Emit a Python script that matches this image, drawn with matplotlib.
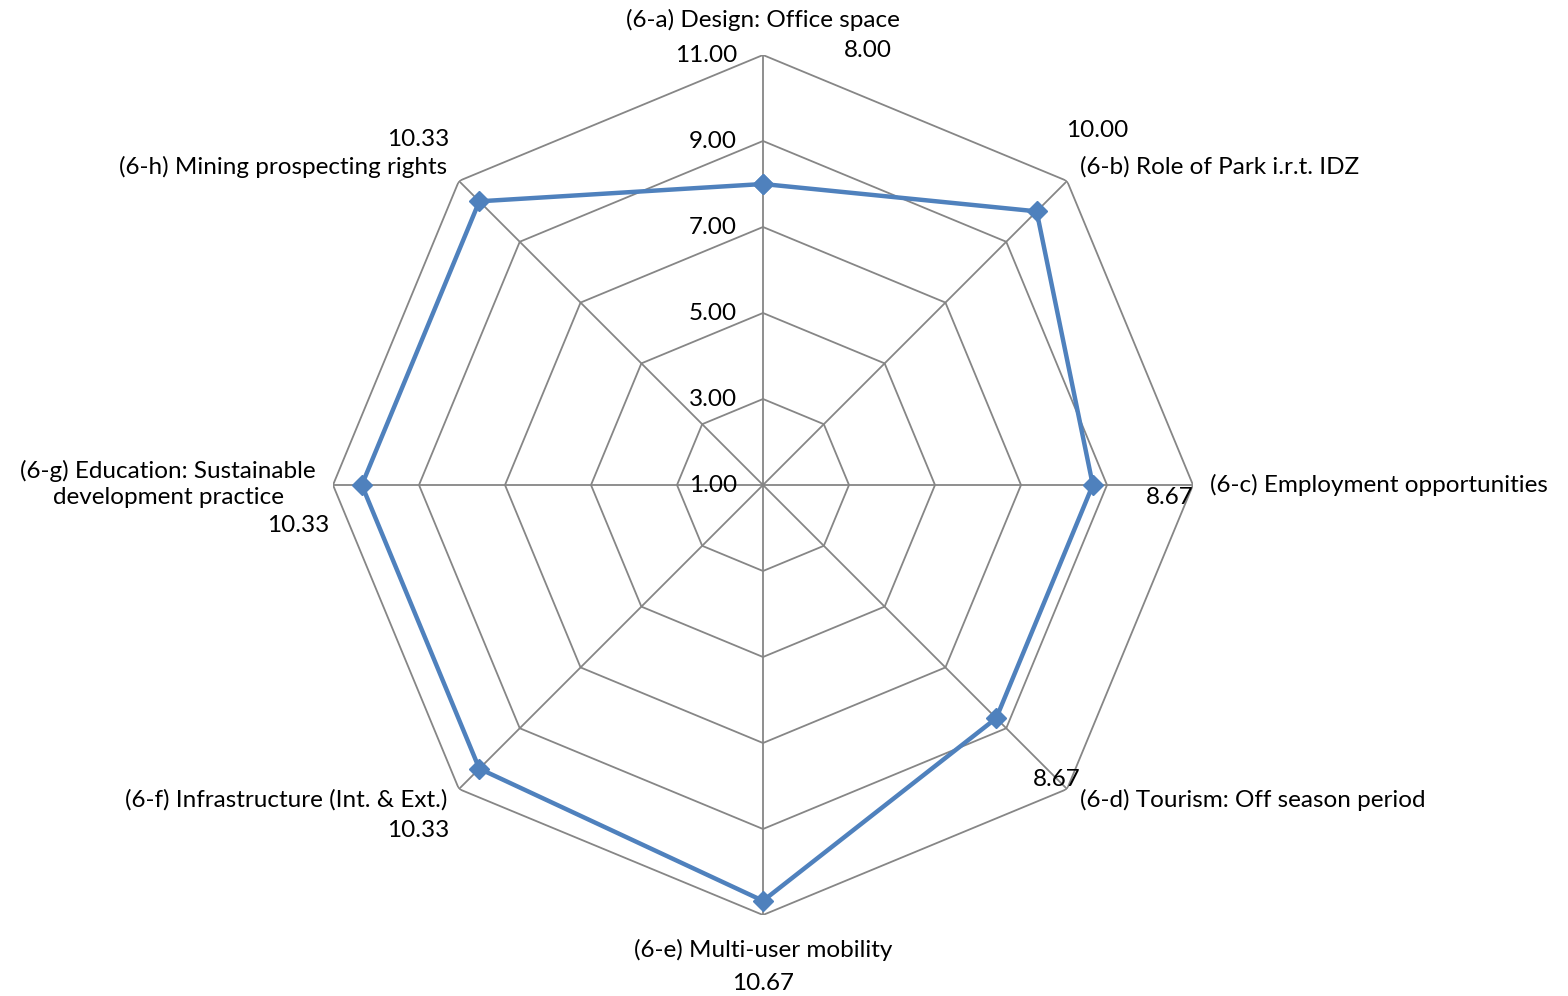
import numpy as np
import matplotlib.pyplot as plt

plt.rcParams['font.family'] = ['Lato', 'DejaVu Sans']

categories = ['(6-a) Design: Office space',
              '(6-b) Role of Park i.r.t. IDZ',
              '(6-c) Employment opportunities',
              '(6-d) Tourism: Off season period',
              '(6-e) Multi-user mobility',
              '(6-f) Infrastructure (Int. & Ext.)',
              '(6-g) Education: Sustainable\ndevelopment practice',
              '(6-h) Mining prospecting rights']
values = [8.00, 10.00, 8.67, 8.67, 10.67, 10.33, 10.33, 10.33]
rticks = [1, 3, 5, 7, 9, 11]

# label placement (pixel offsets from the outer vertex of each spoke)
cat_offsets = [(0, 35, 'center'), (13, 14, 'left'), (17, 0, 'left'),
               (13, -11, 'left'), (0, -35, 'center'), (-12, -11, 'right'),
               (-17, 1, 'right'), (-12, 14, 'right')]
val_offsets = [(105, 5), (30, 50), (-23, -12), (-10, 10),
               (0, -68), (-41, -41), (-35, -40), (-41, 41)]

grid_color = '#868686'
line_color = '#4F81BD'
fs = 17.5

W, H = 1568, 996
fig = plt.figure(figsize=(W / 100, H / 100), dpi=100)
cx, cy, rad = 763, H - 485, 430
ax = fig.add_axes([(cx - rad) / W, (cy - rad) / H, 2 * rad / W, 2 * rad / H],
                  projection='polar')
ax.set_theta_offset(np.pi / 2)
ax.set_theta_direction(-1)
ax.set_ylim(1, 11)
ax.grid(False)
ax.set_xticks([])
ax.set_yticks([])
ax.spines['polar'].set_visible(False)
ax.patch.set_visible(False)

n = len(categories)
angles = np.arange(n) * 2 * np.pi / n
closed = np.append(angles, angles[0])

# octagon grid
for r in rticks[1:]:
    ax.plot(closed, [r] * (n + 1), color=grid_color, lw=1.3, zorder=1)
for a in angles:
    ax.plot([a, a], [1, 11], color=grid_color, lw=1.3, zorder=1)

# radial tick labels
for r in rticks:
    ax.annotate('%.2f' % r, xy=(0, r), xytext=(-26, 0), textcoords='offset pixels',
                ha='right', va='center', fontsize=fs)

# series
ax.plot(closed, values + values[:1], color=line_color, lw=3.2,
        marker='D', markersize=10, zorder=3, clip_on=False)

for a, cat, (dx, dy, ha) in zip(angles, categories, cat_offsets):
    ax.annotate(cat, xy=(a, 11), xytext=(dx, dy), textcoords='offset pixels',
                ha=ha, va='center', multialignment='center', fontsize=fs,
                linespacing=1.3)

for a, v, (dx, dy) in zip(angles, values, val_offsets):
    ax.annotate('%.2f' % v, xy=(a, 11), xytext=(dx, dy), textcoords='offset pixels',
                ha='center', va='center', fontsize=fs)

fig.savefig('out.png', dpi=100)
